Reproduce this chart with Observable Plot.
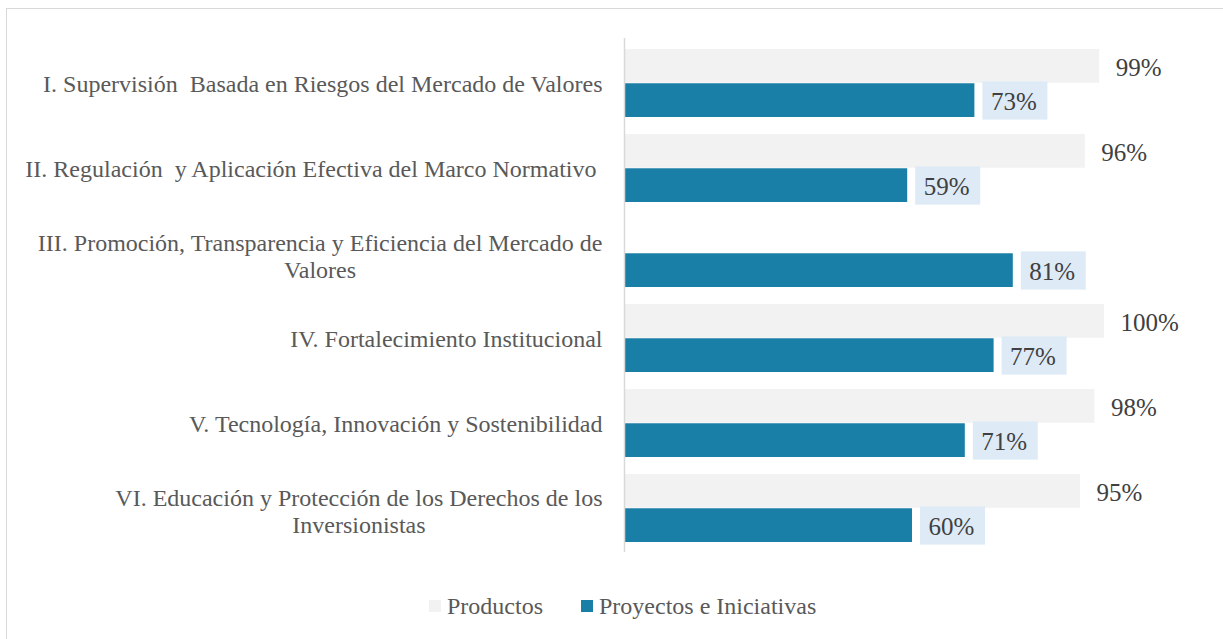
<!DOCTYPE html>
<html>
<head>
<meta charset="utf-8">
<script src="https://cdn.jsdelivr.net/npm/d3@7"></script>
<script src="https://cdn.jsdelivr.net/npm/@observablehq/plot@0.6"></script>
<style>
  html, body { margin: 0; padding: 0; background: #fff; overflow: hidden; }
  body { width: 1223px; height: 639px; position: relative; font-family: "Liberation Serif", "Times New Roman", serif; }
  #frame { position: absolute; left: 6px; top: 8px; width: 1300px; height: 700px; border: 1.5px solid #d9d9d9; box-sizing: border-box; }
  #chart { position: absolute; left: 0; top: 0; }
  #chart svg text { white-space: pre; }
  #legend { position: absolute; left: 429px; top: 592px; display: flex; align-items: center; font-size: 24px; line-height: 28px; color: #595959; }
  .sw { width: 12px; height: 12px; margin-right: 6px; }
  .item { display: flex; align-items: center; }
</style>
</head>
<body>
<div id="frame"></div>
<div id="chart"></div>
<div id="legend"></div>
<script>
// ---- data ----
const categories = ["I", "II", "III", "IV", "V", "VI"];
const categoryLabels = [
  ["I. Supervisión  Basada en Riesgos del Mercado de Valores"],
  ["II. Regulación  y Aplicación Efectiva del Marco Normativo "],
  ["III. Promoción, Transparencia y Eficiencia del Mercado de", "Valores"],
  ["IV. Fortalecimiento Institucional"],
  ["V. Tecnología, Innovación y Sostenibilidad"],
  ["VI. Educación y Protección de los Derechos de los", "Inversionistas"]
];
const seriesNames = ["Productos", "Proyectos e Iniciativas"];
const productos = [99, 96, null, 100, 98, 95];
const proyectos = [73, 59, 81, 77, 71, 60];
const seriesColors = ["#f2f2f2", "#1a7fa6"];

// ---- tables ----
const prodRows = categories.map((c, i) => ({cat: c, v: productos[i]})).filter(d => d.v != null);
const projRows = categories.map((c, i) => ({cat: c, v: proyectos[i]}));

const labelFont = 24;
const ctx = document.createElement("canvas").getContext("2d");
ctx.font = `${labelFont}px "Liberation Serif"`;

const H = 575, mTop = 38, mBottom = 23;
const step = (H - mTop - mBottom) / categories.length;
const half = step * 0.8 / 2;

const labelMarks = categories.map((c, i) => {
  const lines = categoryLabels[i];
  const multi = lines.length > 1;
  const w = ctx.measureText(lines[0]).width;
  return Plot.text([{cat: c, t: lines.join("\n")}], {
    x: () => 0, y: "cat", text: "t",
    textAnchor: multi ? "middle" : "end",
    dx: multi ? -(22 + w / 2) : -22,
    dy: multi ? 2 : 0,
    lineHeight: 1.13,
    fontSize: labelFont, fill: "#595959"
  });
});

const chart = Plot.plot({
  width: 1223, height: H,
  marginLeft: 624, marginRight: 119, marginTop: mTop, marginBottom: mBottom,
  x: {domain: [0, 100], axis: null},
  y: {domain: categories, paddingInner: 0.2, paddingOuter: 0.1, axis: null},
  style: {fontFamily: '"Liberation Serif", "Times New Roman", serif', background: "transparent", overflow: "visible"},
  marks: [
    Plot.barX(prodRows, {x: "v", y: "cat", fill: seriesColors[0], insetBottom: half}),
    Plot.barX(projRows, {x: "v", y: "cat", fill: seriesColors[1], insetTop: half}),
    Plot.barX(projRows, {x1: "v", x2: "v", y: "cat", fill: "#deebf7", insetLeft: 8, insetRight: -73, insetTop: half - 1.9, insetBottom: -2.6}),
    Plot.ruleX([0], {stroke: "#d9d9d9", strokeWidth: 1.5}),
    Plot.text(prodRows, {x: "v", y: "cat", text: d => d.v + "%", textAnchor: "start", dx: 16, dy: -15.5, fontSize: 25, fill: "#404040"}),
    Plot.text(projRows, {x: "v", y: "cat", text: d => d.v + "%", textAnchor: "start", dx: 16, dy: 18, fontSize: 25, fill: "#404040"}),
    ...labelMarks
  ]
});
document.getElementById("chart").appendChild(chart);

// ---- legend ----
const legend = document.getElementById("legend");
seriesNames.forEach((name, i) => {
  const item = document.createElement("div");
  item.className = "item";
  if (i > 0) item.style.marginLeft = "38px";
  const sw = document.createElement("div");
  sw.className = "sw";
  sw.style.background = seriesColors[i];
  const tx = document.createElement("span");
  tx.textContent = name;
  item.appendChild(sw);
  item.appendChild(tx);
  legend.appendChild(item);
});
</script>
</body>
</html>
